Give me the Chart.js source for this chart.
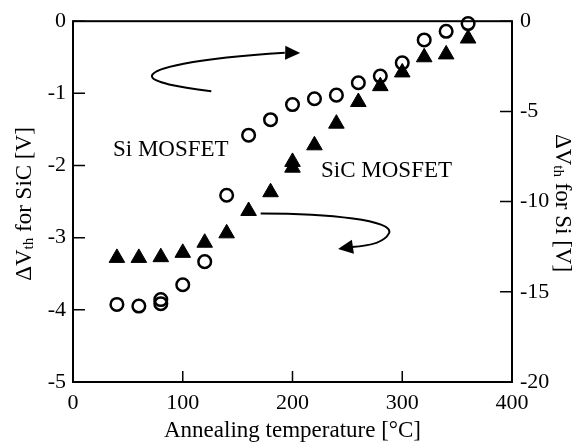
<!DOCTYPE html>
<html>
<head>
<meta charset="utf-8">
<script src="https://cdn.jsdelivr.net/npm/chart.js@4"></script>
<style>
  body { margin: 0; background: #fff; }
</style>
</head>
<body>
<canvas id="chart" width="583" height="446"></canvas>
<script>
// SiC MOSFET (triangles, left axis)
const sicTemps = [40, 60, 80, 100, 120, 140, 160, 180, 200, 200, 220, 240, 260, 280, 300, 320, 340, 360];
const sicShift = [-3.28, -3.28, -3.27, -3.21, -3.07, -2.94, -2.63, -2.37, -1.95, -2.03, -1.72, -1.42, -1.12, -0.90, -0.71, -0.50, -0.46, -0.24];

// Si MOSFET (circles, right axis)
const siTemps = [40, 60, 80, 80, 100, 120, 140, 160, 180, 200, 220, 240, 260, 280, 300, 320, 340, 360];
const siShift = [-15.70, -15.79, -15.43, -15.66, -14.61, -13.33, -9.65, -6.32, -5.46, -4.62, -4.30, -4.10, -3.41, -3.04, -2.31, -1.04, -0.56, -0.13];

const xTicks = [0, 100, 200, 300, 400];
const sicTicks = [-5, -4, -3, -2, -1, 0];
const siTicks = [-20, -15, -10, -5, 0];

// annotation arrows, in data units (x: temperature, y: SiC axis)
const arrowToRight = [[126, -0.97], [97.5, -0.915], [70, -0.847], [72, -0.751], [74, -0.656], [106.6, -0.519], [193, -0.437], [207, -0.441]];
const arrowToLeft = [[171, -2.664], [234, -2.664], [293, -2.76], [288, -2.937], [284, -3.06], [270.6, -3.115], [254, -3.128], [241.5, -3.156]];

const serif = '"Liberation Serif", "Times New Roman", serif';

const sicPoints = sicTemps.map((t, i) => ({ x: t, y: sicShift[i] }));
const siPoints = siTemps.map((t, i) => ({ x: t, y: siShift[i] }));

function drawTitle(ctx, cx, cy, angle, parts) {
  ctx.save();
  ctx.translate(cx, cy);
  ctx.rotate(angle);
  ctx.textBaseline = 'middle';
  ctx.textAlign = 'left';
  let total = 0;
  parts.forEach(p => {
    ctx.font = p.size + 'px ' + serif;
    total += ctx.measureText(p.t).width;
  });
  let x = -total / 2;
  parts.forEach(p => {
    ctx.font = p.size + 'px ' + serif;
    ctx.fillText(p.t, x, p.dy || 0);
    x += ctx.measureText(p.t).width;
  });
  ctx.restore();
}

function drawArrow(ctx, xs, ys, pts) {
  const p = pts.map(([a, b]) => [xs.getPixelForValue(a), ys.getPixelForValue(b)]);
  ctx.beginPath();
  ctx.moveTo(p[0][0], p[0][1]);
  ctx.bezierCurveTo(p[1][0], p[1][1], p[2][0], p[2][1], p[3][0], p[3][1]);
  ctx.bezierCurveTo(p[4][0], p[4][1], p[5][0], p[5][1], p[6][0], p[6][1]);
  ctx.stroke();
  // head
  const tip = p[7], base = p[6];
  const dx = tip[0] - base[0], dy = tip[1] - base[1];
  const len = Math.hypot(dx, dy);
  const ux = dx / len, uy = dy / len;
  const hl = 15, hw = 7;
  const bx = tip[0] - ux * hl, by = tip[1] - uy * hl;
  ctx.beginPath();
  ctx.moveTo(tip[0], tip[1]);
  ctx.lineTo(bx - uy * hw, by + ux * hw);
  ctx.lineTo(bx + uy * hw, by - ux * hw);
  ctx.closePath();
  ctx.fill();
}

const framePlugin = {
  id: 'frame',
  beforeDatasetsDraw(chart) {
    const { ctx, chartArea: a, scales } = chart;
    ctx.save();
    ctx.strokeStyle = '#000';
    ctx.lineWidth = 2;
    ctx.strokeRect(a.left, a.top, a.right - a.left, a.bottom - a.top);
    ctx.lineWidth = 1.5;
    ctx.beginPath();
    xTicks.forEach(v => {
      const px = scales.x.getPixelForValue(v);
      ctx.moveTo(px, a.bottom);
      ctx.lineTo(px, a.bottom - 11);
    });
    sicTicks.forEach(v => {
      const py = scales.y.getPixelForValue(v);
      ctx.moveTo(a.left, py);
      ctx.lineTo(a.left + 12, py);
    });
    siTicks.forEach(v => {
      const py = scales.y2.getPixelForValue(v);
      ctx.moveTo(a.right, py);
      ctx.lineTo(a.right - 12, py);
    });
    ctx.stroke();
    ctx.restore();
  },
  afterDraw(chart) {
    const { ctx, chartArea: a, scales } = chart;
    ctx.save();
    ctx.fillStyle = '#000';
    ctx.strokeStyle = '#000';
    ctx.lineWidth = 2;

    drawArrow(ctx, scales.x, scales.y, arrowToRight);
    drawArrow(ctx, scales.x, scales.y, arrowToLeft);

    ctx.font = '23px ' + serif;
    ctx.textAlign = 'left';
    ctx.textBaseline = 'alphabetic';
    ctx.fillText('Si MOSFET', scales.x.getPixelForValue(36.4), scales.y.getPixelForValue(-1.872));
    ctx.fillText('SiC MOSFET', scales.x.getPixelForValue(226), scales.y.getPixelForValue(-2.158));

    // axis titles
    ctx.font = '23px ' + serif;
    ctx.textAlign = 'center';
    ctx.textBaseline = 'middle';
    ctx.fillText('Annealing temperature [°C]', (a.left + a.right) / 2, 431);

    drawTitle(ctx, 25, 204, -Math.PI / 2, [
      { t: 'ΔV', size: 23 }, { t: 'th', size: 15, dy: 4 }, { t: ' for SiC [V]', size: 23 }
    ]);
    drawTitle(ctx, 562, 203, Math.PI / 2, [
      { t: 'ΔV', size: 23 }, { t: 'th', size: 15, dy: 4 }, { t: ' for Si [V]', size: 23 }
    ]);
    ctx.restore();
  }
};

const tickFont = { family: serif, size: 22 };

new Chart(document.getElementById('chart'), {
  type: 'scatter',
  data: {
    datasets: [
      {
        label: 'SiC MOSFET',
        data: sicPoints,
        yAxisID: 'y',
        pointStyle: 'triangle',
        pointRadius: 9,
        backgroundColor: '#000',
        borderColor: '#000',
        borderWidth: 1,
        clip: false
      },
      {
        label: 'Si MOSFET',
        data: siPoints,
        yAxisID: 'y2',
        pointStyle: 'circle',
        pointRadius: 6.3,
        backgroundColor: 'rgba(0,0,0,0)',
        borderColor: '#000',
        borderWidth: 2.5,
        clip: false
      }
    ]
  },
  options: {
    responsive: false,
    animation: false,
    devicePixelRatio: 1,
    layout: { padding: { top: 16, left: 0, right: 0, bottom: 0 } },
    plugins: {
      legend: { display: false },
      tooltip: { enabled: false }
    },
    scales: {
      x: {
        type: 'linear',
        min: 0, max: 400,
        afterBuildTicks: s => { s.ticks = xTicks.map(v => ({ value: v })); },
        ticks: { font: tickFont, color: '#000', padding: 8, maxRotation: 0 },
        grid: { display: false, drawTicks: false },
        border: { display: false },
        afterFit: s => { s.height = 64; }
      },
      y: {
        position: 'left',
        min: -5, max: 0,
        afterBuildTicks: s => { s.ticks = sicTicks.map(v => ({ value: v })); },
        ticks: { font: tickFont, color: '#000', padding: 7 },
        grid: { display: false, drawTicks: false },
        border: { display: false },
        afterFit: s => { s.width = 73; }
      },
      y2: {
        position: 'right',
        min: -20, max: 0,
        afterBuildTicks: s => { s.ticks = siTicks.map(v => ({ value: v })); },
        ticks: { font: tickFont, color: '#000', padding: 8 },
        grid: { display: false, drawTicks: false },
        border: { display: false },
        afterFit: s => { s.width = 71; }
      }
    }
  },
  plugins: [framePlugin]
});
</script>
</body>
</html>
